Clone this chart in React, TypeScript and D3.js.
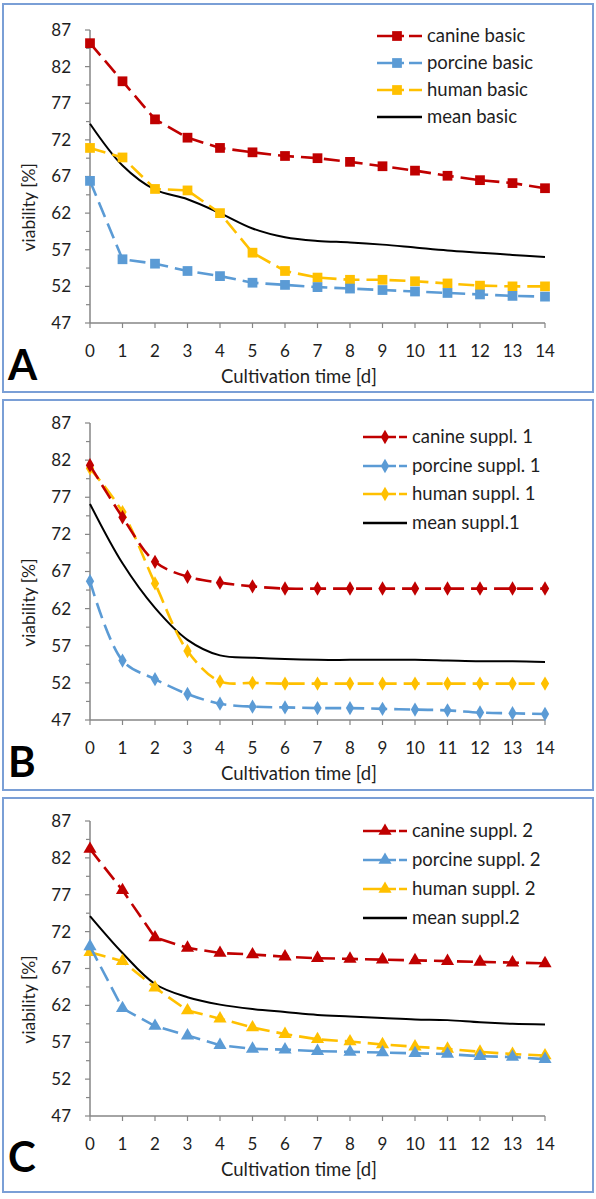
import React from "react";
import * as d3 from "d3";

const days = [0, 1, 2, 3, 4, 5, 6, 7, 8, 9, 10, 11, 12, 13, 14];
const yTicks = [47, 52, 57, 62, 67, 72, 77, 82, 87];
const yMinorTicks = [49.5, 54.5, 59.5, 64.5, 69.5, 74.5, 79.5, 84.5];

const canineBasic = [85.2, 80.0, 74.8, 72.3, 70.9, 70.3, 69.8, 69.5, 69.0, 68.4, 67.8, 67.1, 66.5, 66.1, 65.4];
const porcineBasic = [66.4, 55.7, 55.1, 54.1, 53.4, 52.5, 52.2, 51.9, 51.7, 51.5, 51.3, 51.1, 50.9, 50.7, 50.6];
const humanBasic = [70.9, 69.6, 65.3, 65.1, 62.0, 56.6, 54.1, 53.2, 52.9, 52.9, 52.7, 52.4, 52.1, 52.0, 52.0];
const meanBasic = [74.2, 68.5, 65.2, 63.9, 62.0, 59.9, 58.7, 58.2, 58.0, 57.7, 57.3, 56.9, 56.6, 56.3, 56.0];

const canineS1 = [81.3, 74.3, 68.3, 66.3, 65.5, 65.0, 64.7, 64.7, 64.7, 64.7, 64.7, 64.7, 64.7, 64.7, 64.7];
const porcineS1 = [65.7, 55.0, 52.5, 50.5, 49.2, 48.8, 48.7, 48.6, 48.6, 48.5, 48.4, 48.3, 48.0, 47.9, 47.8];
const humanS1 = [80.9, 75.0, 65.4, 56.3, 52.2, 52.0, 51.9, 51.9, 51.9, 51.9, 51.9, 51.9, 51.9, 51.9, 51.9];
const meanS1 = [76.1, 68.1, 62.1, 57.8, 55.7, 55.4, 55.2, 55.1, 55.1, 55.1, 55.1, 55.0, 54.9, 54.9, 54.8];

const canineS2 = [83.2, 77.6, 71.2, 69.8, 69.1, 68.9, 68.6, 68.4, 68.3, 68.2, 68.1, 68.0, 67.9, 67.8, 67.7];
const porcineS2 = [70.0, 61.6, 59.2, 57.9, 56.6, 56.1, 56.0, 55.8, 55.7, 55.6, 55.5, 55.4, 55.1, 55.0, 54.7];
const humanS2 = [69.2, 68.0, 64.4, 61.3, 60.2, 59.0, 58.1, 57.4, 57.1, 56.7, 56.4, 56.1, 55.7, 55.4, 55.2];
const meanS2 = [74.1, 69.1, 64.9, 63.1, 62.1, 61.5, 61.1, 60.7, 60.5, 60.3, 60.1, 60.0, 59.7, 59.5, 59.4];

const namesA = ["canine basic", "porcine basic", "human basic", "mean basic"];
const namesB = ["canine suppl. 1", "porcine suppl. 1", "human suppl. 1", "mean suppl.1"];
const namesC = ["canine suppl. 2", "porcine suppl. 2", "human suppl. 2", "mean suppl.2"];

const RED = "#C00000";
const BLUE = "#5B9BD5";
const YEL = "#FFC000";
const BLACK = "#000000";
const FONT = "Lato, 'Open Sans', sans-serif";
const TEXT = "#1e1e1e";
const AXIS = "#868686";
const FRAME = "#7A9FD6";

type PanelCfg = {
  top: number;
  bottom: number;
  y87: number;
  y47: number;
  letter: string;
  letterY: number;
  names: string[];
  series: number[][];
  symbol: d3.SymbolType;
  symSize: number;
  legX0: number;
  legX1: number;
  legMark: number;
  legDash: string;
  legText: number;
  legY: number[];
  smooth: boolean;
};

const panels: PanelCfg[] = [
  {
    top: 4, bottom: 392, y87: 30, y47: 323, letter: "A", letterY: 380,
    names: namesA, series: [canineBasic, porcineBasic, humanBasic, meanBasic],
    symbol: d3.symbolSquare, symSize: 95,
    legX0: 377, legX1: 422, legMark: 397, legDash: "27,5,14", legText: 427,
    legY: [36, 63, 90, 117], smooth: false,
  },
  {
    top: 400, bottom: 790, y87: 423, y47: 720, letter: "B", letterY: 777,
    names: namesB, series: [canineS1, porcineS1, humanS1, meanS1],
    symbol: d3.symbolDiamond, symSize: 60,
    legX0: 363, legX1: 407, legMark: 385, legDash: "33,3,8", legText: 412,
    legY: [437, 466, 494, 523], smooth: true,
  },
  {
    top: 798, bottom: 1192, y87: 821, y47: 1116, letter: "C", letterY: 1172,
    names: namesC, series: [canineS2, porcineS2, humanS2, meanS2],
    symbol: d3.symbolTriangle, symSize: 75,
    legX0: 363, legX1: 407, legMark: 385, legDash: "33,3,8", legText: 412,
    legY: [831, 860, 889, 918], smooth: false,
  },
];

const colors = [RED, BLUE, YEL, BLACK];

function Panel({ cfg }: { cfg: PanelCfg }) {
  const x = d3.scaleLinear().domain([0, 14]).range([90, 545]);
  const y = d3.scaleLinear().domain([47, 87]).range([cfg.y47, cfg.y87]);
  const sym = d3.symbol().type(cfg.symbol).size(cfg.symSize)()!;
  const lineLin = d3.line<number>().x((_, i) => x(days[i])).y((v) => y(v));
  const lineSmooth = d3
    .line<number>()
    .x((_, i) => x(days[i]))
    .y((v) => y(v))
    .curve(d3.curveCatmullRom.alpha(0.5));
  const colLine = cfg.smooth ? lineSmooth : lineLin;
  const labelY = y(62.8);
  return (
    <g>
      <rect x={3} y={cfg.top} width={590} height={cfg.bottom - cfg.top} fill="#fff" stroke={FRAME} strokeWidth={2} />
      {/* y axis */}
      <line x1={90} x2={90} y1={y(87)} y2={y(47)} stroke={AXIS} strokeWidth={1.5} />
      {yTicks.map((t) => (
        <g key={"yt" + t}>
          <line x1={85} x2={90} y1={y(t)} y2={y(t)} stroke={AXIS} strokeWidth={1.2} />
          <text x={71} y={y(t)} dy="0.35em" textAnchor="end" fontSize={17} fontFamily={FONT} fill={TEXT}>
            {t}
          </text>
        </g>
      ))}
      {yMinorTicks.map((t) => (
        <line key={"ym" + t} x1={86} x2={90} y1={y(t)} y2={y(t)} stroke={AXIS} strokeWidth={1.2} />
      ))}
      {/* x axis */}
      <line x1={x(0)} x2={x(14)} y1={y(47)} y2={y(47)} stroke={AXIS} strokeWidth={1.5} />
      {days.map((d) => (
        <g key={"xt" + d}>
          <line x1={x(d)} x2={x(d)} y1={y(47)} y2={y(47) + 5} stroke={AXIS} strokeWidth={1.2} />
          <text x={x(d)} y={y(47) + 34} textAnchor="middle" fontSize={17} fontFamily={FONT} fill={TEXT}>
            {d}
          </text>
        </g>
      ))}
      <text x={299} y={y(47) + 60} textAnchor="middle" fontSize={18.5} fontFamily={FONT} fill={TEXT}>
        Cultivation time [d]
      </text>
      <text
        transform={`translate(35,${labelY}) rotate(-90)`}
        textAnchor="middle"
        fontSize={17.5}
        fontFamily={FONT}
        fill={TEXT}
      >
        viability [%]
      </text>
      <text x={8} y={cfg.letterY} fontSize={42} fontWeight={700} fontFamily={FONT} fill="#000">
        {cfg.letter}
      </text>
      {/* series */}
      <path d={lineSmooth(cfg.series[3])!} fill="none" stroke={BLACK} strokeWidth={2} />
      {[2, 1, 0].map((si) => (
        <g key={"s" + si}>
          <path
            d={colLine(cfg.series[si])!}
            fill="none"
            stroke={colors[si]}
            strokeWidth={2.6}
            strokeDasharray="16,7"
          />
          {cfg.series[si].map((v, i) => (
            <path key={i} d={sym} transform={`translate(${x(days[i])},${y(v)})`} fill={colors[si]} />
          ))}
        </g>
      ))}
      {/* legend */}
      {cfg.names.map((n, i) => (
        <g key={"lg" + i}>
          <line
            x1={cfg.legX0}
            x2={cfg.legX1}
            y1={cfg.legY[i]}
            y2={cfg.legY[i]}
            stroke={colors[i]}
            strokeWidth={2.6}
            strokeDasharray={i < 3 ? cfg.legDash : undefined}
          />
          {i < 3 && (
            <path d={sym} transform={`translate(${cfg.legMark},${cfg.legY[i]})`} fill={colors[i]} />
          )}
          <text x={cfg.legText} y={cfg.legY[i]} dy="0.35em" fontSize={18.5} fontFamily={FONT} fill={TEXT}>
            {n}
          </text>
        </g>
      ))}
    </g>
  );
}

export default function App() {
  return (
    <svg
      width={596}
      height={1199}
      style={{ position: "absolute", left: 0, top: 0, background: "#fff" }}
    >
      <rect x={0} y={0} width={596} height={1199} fill="#fff" />
      {panels.map((p) => (
        <Panel key={p.letter} cfg={p} />
      ))}
    </svg>
  );
}
